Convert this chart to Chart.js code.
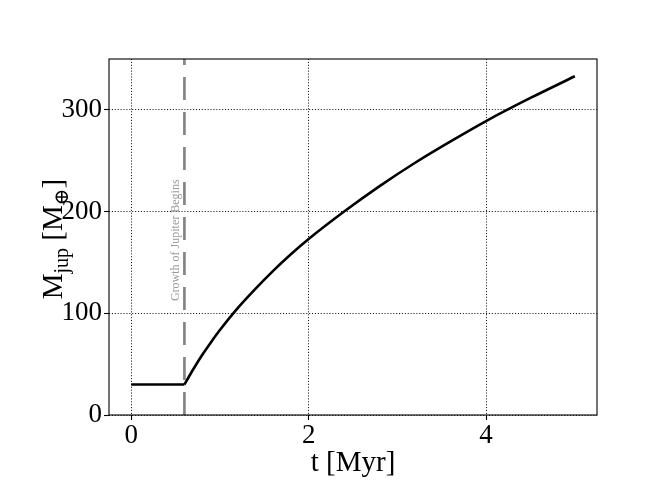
<!DOCTYPE html>
<html><head><meta charset="utf-8">
<script src="https://cdn.jsdelivr.net/npm/chart.js@4/dist/chart.umd.min.js"></script>
<style>html,body{margin:0;padding:0;background:#fff}#wrap{width:664px;height:498px}</style>
</head><body><div id="wrap"><canvas id="c" width="664" height="498"></canvas></div>
<script>
// ---- data ----
const flatTimes = [0, 0.6];
const flatMass = [30, 30];
const growthTimes = [0.6, 0.7, 0.8, 0.9, 1.0, 1.2, 1.4, 1.6, 1.8, 2.0, 2.4, 2.8, 3.2, 3.6, 4.0, 4.5, 5.0];
const growthMass  = [30, 45, 59, 71.6, 83.5, 105, 124, 141.7, 158, 173, 200, 225, 248, 269, 289, 311.7, 333];
const growthStart = 0.6;
const xTicks = [0, 2, 4];
const yTicks = [0, 100, 200, 300];
const xRange = [-0.25, 5.25];
const yRange = [0, 350];
const xLabel = 't [Myr]';
const yLabelParts = [['M', 0], ['jup', 1], [' [M', 0], ['\u2295', 1], [']', 0]];
const annotationText = 'Growth of Jupiter Begins';
const annotationY = 112;

const SERIF = '"Liberation Serif", "DejaVu Serif", serif';

const pts = (xs, ys) => xs.map((x, i) => ({x, y: ys[i]}));

const framePlugin = {
  id: 'frame',
  afterDraw(chart) {
    const {ctx, chartArea: a, scales} = chart;
    ctx.save();
    ctx.strokeStyle = '#000';
    ctx.lineWidth = 1.1;
    ctx.setLineDash([]);
    ctx.strokeRect(a.left, a.top, a.right - a.left, a.bottom - a.top);
    ctx.fillStyle = '#000';
    ctx.font = '29px ' + SERIF;
    ctx.textAlign = 'center';
    ctx.textBaseline = 'alphabetic';
    ctx.fillText(xLabel, (a.left + a.right) / 2, 471);
    const big = '29px ' + SERIF, small = '20px ' + SERIF;
    let total = 0;
    const widths = yLabelParts.map(([t, sub]) => { ctx.font = sub ? small : big; const w = ctx.measureText(t).width; total += w; return w; });
    ctx.translate(61.5, (a.top + a.bottom) / 2 + 2);
    ctx.rotate(-Math.PI / 2);
    ctx.textAlign = 'left';
    let cx = -total / 2;
    yLabelParts.forEach(([t, sub], i) => {
      ctx.font = sub ? small : big;
      ctx.fillText(t, cx, sub ? 6 : 0);
      cx += widths[i];
    });
    ctx.restore();
    ctx.save();
    ctx.fillStyle = '#9a9a9a';
    ctx.font = '12px ' + SERIF;
    ctx.translate(scales.x.getPixelForValue(growthStart) - 5.5, scales.y.getPixelForValue(annotationY));
    ctx.rotate(-Math.PI / 2);
    ctx.textAlign = 'left';
    ctx.textBaseline = 'alphabetic';
    ctx.fillText(annotationText, 0, 0);
    ctx.restore();
  }
};

new Chart(document.getElementById('c'), {
  type: 'line',
  data: {
    datasets: [
      { data: pts([growthStart, growthStart], [yRange[0], yRange[1]]), borderColor: '#858585', borderWidth: 2.7,
        borderDash: [23, 12], pointRadius: 0, fill: false, order: 3 },
      { data: pts(flatTimes, flatMass), borderColor: '#000', borderWidth: 2.6, pointRadius: 0, fill: false, order: 1 },
      { data: pts(growthTimes, growthMass), borderColor: '#000', borderWidth: 2.6, pointRadius: 0, fill: false,
        cubicInterpolationMode: 'monotone', order: 1 }
    ]
  },
  options: {
    responsive: false,
    devicePixelRatio: 1,
    animation: false,
    events: [],
    layout: { padding: { left: 0, top: 59, right: 67, bottom: 0 } },
    plugins: { legend: { display: false }, tooltip: { enabled: false }, title: { display: false } },
    scales: {
      x: {
        type: 'linear', min: xRange[0], max: xRange[1],
        afterBuildTicks: s => { s.ticks = xTicks.map(v => ({value: v})); },
        afterFit: s => { s.height = 83; },
        border: { display: false, dash: [1.1, 1.8] },
        grid: { color: '#000', lineWidth: 0.9, drawTicks: true, tickLength: 5, tickColor: '#000', tickWidth: 1.1, tickBorderDash: [] },
        ticks: { color: '#000', font: { family: SERIF, size: 27 }, padding: 0, maxRotation: 0, callback: v => String(v) }
      },
      y: {
        type: 'linear', min: yRange[0], max: yRange[1],
        afterBuildTicks: s => { s.ticks = yTicks.map(v => ({value: v})); },
        afterFit: s => { s.width = 109; },
        border: { display: false, dash: [1.1, 1.8] },
        grid: { color: '#000', lineWidth: 0.9, drawTicks: true, tickLength: 5, tickColor: '#000', tickWidth: 1.1, tickBorderDash: [] },
        ticks: { color: '#000', font: { family: SERIF, size: 27 }, padding: 2, callback: v => String(v) }
      }
    }
  },
  plugins: [framePlugin]
});
</script></body></html>
